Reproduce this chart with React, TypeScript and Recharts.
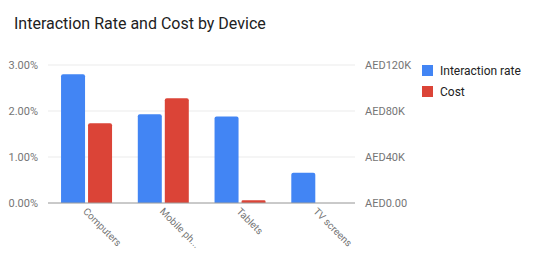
import { BarChart, Bar, XAxis, YAxis, CartesianGrid } from "recharts";

const devices = ["Computers", "Mobile phones", "Tablets", "TV screens"];
const interactionRate = [0.028, 0.0193, 0.0188, 0.0066];
const cost = [69300, 91000, 2300, 0];
const rateTicks = [0, 0.01, 0.02, 0.03];
const costTicks = [0, 40000, 80000, 120000];

const BLUE = "#4285f4";
const RED = "#db4437";
const FONT = "Roboto, Arial, sans-serif";

const data = devices.map((d, i) => ({
  device: d,
  rate: interactionRate[i],
  cost: cost[i],
}));

const fmtRate = (v: number) => `${(v * 100).toFixed(2)}%`;
const fmtCost = (v: number) => (v === 0 ? "AED0.00" : `AED${v / 1000}K`);

function XTick({ x, y, payload }: any) {
  const label: string =
    payload.value.length > 10 ? payload.value.slice(0, 9) + "..." : payload.value;
  const ax = x - 4;
  const ay = y + 1;
  return (
    <text
      x={ax}
      y={ay}
      transform={`rotate(45 ${ax} ${ay})`}
      textAnchor="start"
      fontSize={10}
      fontFamily={FONT}
      fill="#757575"
    >
      {label}
    </text>
  );
}

function LegendBox() {
  const items = [
    { name: "Interaction rate", color: BLUE },
    { name: "Cost", color: RED },
  ];
  return (
    <div
      style={{
        position: "absolute",
        left: 422,
        top: 60,
        fontFamily: FONT,
        fontSize: 12,
        color: "#222",
      }}
    >
      {items.map((it) => (
        <div
          key={it.name}
          style={{ display: "flex", alignItems: "center", height: 21 }}
        >
          <span
            style={{
              width: 11,
              height: 11,
              background: it.color,
              display: "inline-block",
              marginRight: 7,
            }}
          />
          <span>{it.name}</span>
        </div>
      ))}
    </div>
  );
}

export default function App() {
  return (
    <div
      style={{
        position: "absolute",
        left: 0,
        top: 0,
        width: 557,
        height: 254,
        background: "#fff",
      }}
    >
      <div
        style={{
          position: "absolute",
          left: 14,
          top: 14,
          fontFamily: FONT,
          fontSize: 16,
          color: "#212121",
          whiteSpace: "nowrap",
        }}
      >
        Interaction Rate and Cost by Device
      </div>
      <BarChart
        width={557}
        height={254}
        data={data}
        margin={{ top: 65, right: 142, bottom: 0, left: 0 }}
        barGap={3}
        barCategoryGap="17%"
      >
        <CartesianGrid vertical={false} stroke="#ebebeb" yAxisId="left" />
        <XAxis
          dataKey="device"
          height={51}
          tickLine={false}
          axisLine={{ stroke: "#9e9e9e" }}
          tick={<XTick />}
          interval={0}
        />
        <YAxis
          yAxisId="left"
          width={48}
          domain={[0, 0.03]}
          ticks={rateTicks}
          tickFormatter={fmtRate}
          axisLine={false}
          tickLine={false}
          tickMargin={4}
          tick={{ fontSize: 11, fill: "#757575", fontFamily: FONT }}
        />
        <YAxis
          yAxisId="right"
          orientation="right"
          width={60}
          domain={[0, 120000]}
          ticks={costTicks}
          tickFormatter={fmtCost}
          axisLine={false}
          tickLine={false}
          tickMargin={4}
          tick={{ fontSize: 11, fill: "#757575", fontFamily: FONT, textAnchor: "start" }}
        />
        <Bar
          yAxisId="left"
          dataKey="rate"
          name="Interaction rate"
          fill={BLUE}
          radius={[2, 2, 0, 0]}
          isAnimationActive={false}
        />
        <Bar
          yAxisId="right"
          dataKey="cost"
          name="Cost"
          fill={RED}
          radius={[2, 2, 0, 0]}
          isAnimationActive={false}
        />
      </BarChart>
      <LegendBox />
    </div>
  );
}
